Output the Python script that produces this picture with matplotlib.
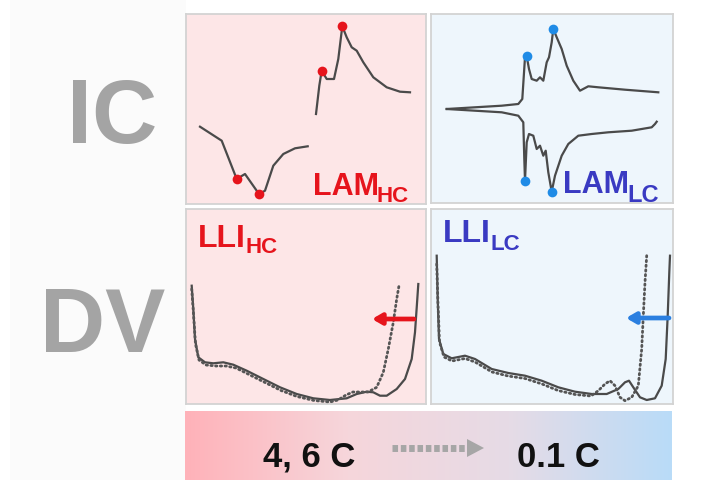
"""IC / DV degradation-mode summary graphic (LAM and LLI at high vs low C-rate)."""

import numpy as np
import matplotlib

matplotlib.use("Agg")
import matplotlib.pyplot as plt  # noqa: E402
from matplotlib.colors import LinearSegmentedColormap  # noqa: E402
from matplotlib.patches import Polygon, Rectangle  # noqa: E402

plt.rcParams["font.family"] = ["Liberation Sans", "DejaVu Sans"]

W, H = 712, 481

RED = "#e6141c"
BLUE_TXT = "#3a3ac2"
BLUE_DOT = "#1f8be6"
BLUE_ARROW = "#2b7fe0"
CURVE = "#4a4a4a"
BIG_GREY = "#a4a4a4"
PINK_BG = "#fde6e7"
BLUE_BG = "#eef6fc"

# panel boxes in figure pixels: left, top, width, height
BOX_IC_HC = (186, 15, 240, 190)
BOX_IC_LC = (431, 15, 242, 189)
BOX_DV_HC = (186, 210, 240, 195)
BOX_DV_LC = (431, 210, 242, 195)

# --- IC, high C-rate (units: px from panel lower-left) ---
ic_hc_dis_x = [14, 35.7, 50.7, 59, 73, 79, 87.3, 97.3, 109, 121.7]
ic_hc_dis_y = [77.3, 63.3, 25, 30, 10, 13.3, 38.3, 50, 55.7, 57.7]
ic_hc_dis_peaks = [2, 4]
ic_hc_chg_x = [130, 133.3, 135.7, 140.7, 148, 152.3, 156.3, 160.7, 165.7, 170.7,
               177.3, 187.3, 200.7, 214, 224]
ic_hc_chg_y = [90, 118.3, 133.3, 125, 125, 145, 177.7, 166.7, 156.7, 153.3,
               141.7, 126.7, 116.7, 112.3, 111.7]
ic_hc_chg_peaks = [2, 6]

# --- IC, low C-rate ---
ic_lc_chg_x = [15.7, 44, 70.7, 87.3, 91.3, 94, 95.7, 98, 100.7, 105.7, 109, 112.3,
               115.7, 118, 120.7, 122.3, 125.7, 130.7, 135.7, 142.3, 149, 157.3,
               167.3, 194, 227.3]
ic_lc_chg_y = [94, 95.7, 97.3, 99, 104, 145.7, 146.7, 134, 124, 122.3, 125.7, 122.3,
               140.7, 145.7, 160.7, 174, 165.7, 154, 137.3, 122.3, 112.3, 116.7,
               115.7, 113.3, 110.7]
ic_lc_chg_peaks = [6, 15]
ic_lc_dis_x = [15.7, 44, 70.7, 87.3, 92.3, 93.3, 94, 95.7, 98, 102.3, 105.7, 109,
               112.3, 114.7, 117.3, 120.7, 124, 130.7, 137.3, 147.3, 160.7, 177.3,
               200.7, 220.7, 224, 225.7]
ic_lc_dis_y = [94, 92.3, 90.7, 87.3, 80.7, 44, 22.3, 60.7, 69, 67.3, 54, 57.3,
               47.3, 52.3, 30.7, 11.3, 27.3, 47.3, 59, 67.3, 69, 70.7,
               72.3, 75.7, 79, 81.3]
ic_lc_dis_peaks = [6, 15]

# --- DV, high C-rate: solid = before, dotted = after ---
dv_hc_x = [5.7, 7.3, 9, 12.3, 19, 27.3, 37.3, 47.3, 60.7, 77.3, 94, 110.7, 127.3,
           144, 160.7, 170.7, 180.7, 187.3, 194, 200.7, 210.7, 219, 225.7, 229,
           231.3, 232.3]
dv_hc_y = [118.3, 95, 65, 46.7, 41.7, 40.7, 41.7, 39.3, 33.3, 25, 16.7, 10, 5.7,
           4, 5.7, 10, 12.3, 11.7, 8.3, 8.3, 15, 25, 45, 71.7, 105, 120]
dv_hc_shift_x = [5.7, 7.5, 9.5, 13, 20, 30, 40, 50, 62, 78, 95, 111, 128, 144, 152,
                 160, 167, 175, 182, 190.7, 197.3, 202.3, 207.3, 210.7, 213]
dv_hc_shift_y = [115, 90, 60, 44, 39, 38, 38, 36, 30, 22, 13.5, 7.5, 3.5, 2, 4,
                 9, 12, 12, 12, 16.7, 31.7, 55, 81.7, 105, 118.3]

# --- DV, low C-rate ---
dv_lc_x = [5.7, 6.7, 8, 12.3, 20.7, 34, 44, 60.7, 77.3, 94, 110.7, 127.3, 144,
           160.7, 175.7, 187.3, 194, 198, 202.3, 209, 215.7, 224, 230.7, 234.7,
           236.7, 238.3, 239]
dv_lc_y = [148.3, 105, 65, 50, 45.7, 48.3, 45, 35, 31, 28.3, 23.3, 16.7, 12.3, 10,
           10, 15, 21.7, 23.3, 16.7, 6.7, 4, 5.7, 18.3, 45, 88.3, 131.7, 148.3]
dv_lc_shift_x = [5.7, 7, 8.5, 13, 21, 34, 44, 61, 77, 94, 111, 127, 144, 160,
                 167.3, 174, 179, 184, 189, 194, 200.7, 207.3, 210.7, 212.3, 214,
                 215.7]
dv_lc_shift_y = [140, 100, 62, 47, 43, 45.5, 42, 32, 28, 25.5, 20, 13.5, 9.5, 8,
                 13.3, 20, 23.3, 18.3, 6.7, 3.3, 6.7, 18.3, 55, 88.3, 121.7, 148.3]

# peak-shift arrows: (tail x, head x, y) in panel px
SHIFT_HC = (228, 186, 85)
SHIFT_LC = (238, 195, 86)

ROW_LABELS = ["IC", "DV"]
RATE_LABELS = ["4, 6 C", "0.1 C"]


def panel(fig, box, face):
    l, t, w, h = box
    ax = fig.add_axes([l / W, 1 - (t + h) / H, w / W, h / H])
    ax.set_xlim(0, w)
    ax.set_ylim(0, h)
    ax.set_facecolor(face)
    ax.set_xticks([])
    ax.set_yticks([])
    for sp in ax.spines.values():
        sp.set_color("#d3d3d3")
        sp.set_linewidth(1.3)
    return ax


def curve(ax, x, y, peaks=None, dot=None, **kw):
    ax.plot(x, y, color=CURVE, lw=1.6, clip_on=False, zorder=3, **kw)
    if peaks:
        ax.plot([x[i] for i in peaks], [y[i] for i in peaks], "o", ms=7,
                color=dot, mec="none", clip_on=False, zorder=4)


def dotted(ax, x, y):
    ax.plot(x, y, color="#555555", lw=2.0, ls=(0, (0.5, 1.2)),
            dash_capstyle="round", zorder=3)


def label(ax, x, y, main, sub, sub_dx, sub_dy, color, size, sub_size):
    ax.text(x, y, main, color=color, fontsize=size, fontweight="bold",
            ha="left", va="baseline", zorder=5)
    ax.text(x + sub_dx, y + sub_dy, sub, color=color, fontsize=sub_size,
            fontweight="bold", ha="left", va="baseline", zorder=5)


def shift_arrow(ax, spec, color):
    tail, head, y = spec
    ax.annotate("", xy=(head, y), xytext=(tail, y),
                arrowprops={"arrowstyle": "-|>,head_length=0.55,head_width=0.32",
                            "color": color, "lw": 3.4, "shrinkA": 0, "shrinkB": 0},
                zorder=5, annotation_clip=False)


fig = plt.figure(figsize=(W / 100, H / 100), dpi=100, facecolor="white")

bg = fig.add_axes([0, 0, 1, 1])
bg.set_xlim(0, W)
bg.set_ylim(H, 0)
bg.axis("off")
bg.add_patch(Rectangle((10, 0), 176, H, facecolor="#fbfbfb", edgecolor="none"))

# row labels
bg.text(112, 143, ROW_LABELS[0], fontsize=65, fontweight="bold", color=BIG_GREY,
        ha="center", va="baseline")
bg.text(103, 352, ROW_LABELS[1], fontsize=65, fontweight="bold", color=BIG_GREY,
        ha="center", va="baseline")

# C-rate bar with pink -> blue gradient
grad = LinearSegmentedColormap.from_list("rate", ["#ffb2b9", "#f6d6db", "#e6dbe6", "#b9dcf8"])
bg.imshow(np.linspace(0, 1, 256)[None, :], cmap=grad, aspect="auto",
          extent=(185, 672, 481, 412), zorder=1)
bg.text(309, 467, RATE_LABELS[0], fontsize=25, fontweight="bold", color="#111111",
        ha="center", va="baseline", zorder=3)
bg.text(558, 467, RATE_LABELS[1], fontsize=25, fontweight="bold", color="#111111",
        ha="center", va="baseline", zorder=3)
bg.plot([392, 467], [449, 449], color="#a6a6a6", lw=5, dashes=(0.8, 0.4),
        solid_capstyle="butt", dash_capstyle="butt", zorder=3)
bg.add_patch(Polygon([[467, 440], [484, 449], [467, 458]], closed=True,
                     facecolor="#a6a6a6", edgecolor="none", zorder=3))
bg.set_xlim(0, W)
bg.set_ylim(H, 0)

# IC, high rate
a = panel(fig, BOX_IC_HC, PINK_BG)
curve(a, ic_hc_dis_x, ic_hc_dis_y, ic_hc_dis_peaks, RED)
curve(a, ic_hc_chg_x, ic_hc_chg_y, ic_hc_chg_peaks, RED)
label(a, 127, 10, "LAM", "HC", 64, -7, RED, 22, 16)

# IC, low rate
a = panel(fig, BOX_IC_LC, BLUE_BG)
curve(a, ic_lc_chg_x, ic_lc_chg_y, ic_lc_chg_peaks, BLUE_DOT)
curve(a, ic_lc_dis_x, ic_lc_dis_y, ic_lc_dis_peaks, BLUE_DOT)
label(a, 132, 11, "LAM", "LC", 64, -9, BLUE_TXT, 22, 17)

# DV, high rate
a = panel(fig, BOX_DV_HC, PINK_BG)
curve(a, dv_hc_x, dv_hc_y)
dotted(a, dv_hc_shift_x, dv_hc_shift_y)
shift_arrow(a, SHIFT_HC, RED)
label(a, 12, 158, "LLI", "HC", 47, -6, RED, 23, 16)

# DV, low rate
a = panel(fig, BOX_DV_LC, BLUE_BG)
curve(a, dv_lc_x, dv_lc_y)
dotted(a, dv_lc_shift_x, dv_lc_shift_y)
shift_arrow(a, SHIFT_LC, BLUE_ARROW)
label(a, 12, 163, "LLI", "LC", 47, -8, BLUE_TXT, 23, 16)

fig.savefig("out.png", dpi=100, facecolor=fig.get_facecolor())
